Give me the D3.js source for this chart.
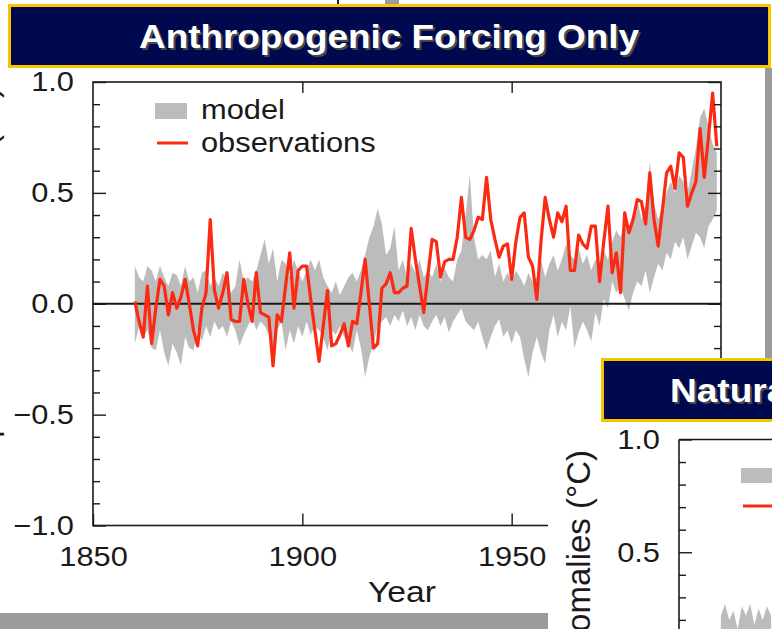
<!DOCTYPE html>
<html>
<head>
<meta charset="utf-8">
<script src="https://cdn.jsdelivr.net/npm/d3@7"></script>
<style>
  body { margin: 0; background: #fff; }
  svg { display: block; }
  text { font-family: "Liberation Sans", Arial, Helvetica, sans-serif; }
</style>
</head>
<body>
<svg id="chart" width="772" height="629"></svg>
<script>
// Global mean surface temperature anomalies (°C), annual, 1860-1999
const years = d3.range(1860, 2000);

const observations = [
  0.01, -0.08, -0.15, 0.08, -0.18, -0.02, 0.11, 0.08, -0.05, 0.05,
  -0.02, 0.03, 0.11, 0.00, -0.12, -0.19, -0.02, 0.05, 0.38, 0.06,
  -0.02, 0.05, 0.14, -0.07, -0.08, -0.08, 0.11, 0.00, -0.08, 0.14,
  -0.04, -0.05, -0.06, -0.28, -0.05, -0.08, 0.08, 0.23, -0.02, 0.15,
  0.17, 0.17, 0.02, -0.12, -0.26, -0.10, 0.06, -0.19, -0.18, -0.14,
  -0.09, -0.19, -0.08, -0.09, 0.05, 0.20, 0.00, -0.20, -0.18, 0.07,
  0.09, 0.14, 0.05, 0.05, 0.07, 0.08, 0.34, 0.20, 0.08, -0.04,
  0.13, 0.29, 0.28, 0.12, 0.19, 0.20, 0.20, 0.30, 0.48, 0.30,
  0.29, 0.33, 0.39, 0.38, 0.57, 0.38, 0.29, 0.21, 0.26, 0.27,
  0.11, 0.28, 0.39, 0.41, 0.21, 0.17, 0.02, 0.28, 0.48, 0.38,
  0.30, 0.41, 0.37, 0.44, 0.15, 0.15, 0.31, 0.27, 0.25, 0.35,
  0.35, 0.10, 0.28, 0.44, 0.14, 0.23, 0.05, 0.41, 0.32, 0.38,
  0.47, 0.46, 0.36, 0.59, 0.38, 0.26, 0.42, 0.59, 0.62, 0.52,
  0.68, 0.66, 0.44, 0.50, 0.55, 0.79, 0.57, 0.75, 0.95, 0.71
];

// Envelope of the anthropogenic-forcing model ensemble
const modelUpper = [
  0.17, 0.12, 0.10, 0.17, 0.15, 0.10, 0.17, 0.12, 0.08, 0.14,
  0.13, 0.08, 0.17, 0.10, 0.12, 0.05, 0.14, 0.15, 0.08, 0.12,
  0.08, 0.14, 0.10, 0.05, 0.08, 0.20, 0.10, 0.12, 0.10, 0.15,
  0.22, 0.29, 0.18, 0.25, 0.10, 0.20, 0.18, 0.12, 0.20, 0.15,
  0.10, 0.15, 0.20, 0.15, 0.20, 0.12, 0.08, 0.05, 0.10, 0.04,
  0.08, 0.12, 0.14, 0.10, 0.15, 0.22, 0.30, 0.35, 0.43, 0.36,
  0.22, 0.25, 0.35, 0.15, 0.20, 0.12, 0.18, 0.14, 0.20, 0.12,
  0.15, 0.12, 0.18, 0.10, 0.16, 0.12, 0.10, 0.20, 0.24, 0.40,
  0.58, 0.30, 0.20, 0.22, 0.20, 0.24, 0.12, 0.18, 0.10, 0.14,
  0.10, 0.15, 0.12, 0.08, 0.14, 0.10, 0.12, 0.20, 0.12, 0.18,
  0.22, 0.15, 0.20, 0.27, 0.22, 0.20, 0.25, 0.18, 0.22, 0.15,
  0.20, 0.18, 0.24, 0.20, 0.28, 0.33, 0.30, 0.38, 0.32, 0.40,
  0.47, 0.38, 0.45, 0.64, 0.45, 0.38, 0.45, 0.50, 0.55, 0.50,
  0.58, 0.55, 0.50, 0.60, 0.70, 0.84, 0.88, 0.80, 0.72, 0.68
];

const modelLower = [
  -0.18, -0.10, -0.15, -0.12, -0.20, -0.21, -0.12, -0.22, -0.28, -0.18,
  -0.22, -0.28, -0.15, -0.20, -0.21, -0.12, -0.17, -0.10, -0.15, -0.08,
  -0.12, -0.10, -0.15, -0.08, -0.12, -0.19, -0.14, -0.10, -0.06, -0.12,
  -0.08, -0.10, -0.14, -0.20, -0.12, -0.08, -0.21, -0.12, -0.18, -0.10,
  -0.15, -0.08, -0.14, -0.10, -0.12, -0.15, -0.21, -0.12, -0.14, -0.10,
  -0.15, -0.18, -0.22, -0.12, -0.20, -0.33, -0.24, -0.18, -0.10, -0.08,
  -0.06, -0.10, -0.05, -0.08, -0.03, -0.10, -0.06, -0.12, -0.05, -0.10,
  -0.12, -0.08, -0.05, -0.10, -0.06, -0.13, -0.08, -0.05, -0.02, -0.08,
  -0.10, -0.12, -0.08, -0.15, -0.21, -0.15, -0.10, -0.07, -0.15, -0.12,
  -0.18, -0.12, -0.15, -0.25, -0.33, -0.22, -0.15, -0.22, -0.27, -0.12,
  -0.05, -0.15, -0.08, -0.12, -0.01, -0.20, -0.13, -0.08, -0.12, -0.17,
  -0.04, -0.10, 0.02, -0.02, 0.10, 0.05, 0.08, 0.02, -0.03, 0.05,
  0.10, 0.08, 0.15, 0.05, 0.12, 0.18, 0.15, 0.23, 0.20, 0.28,
  0.25, 0.30, 0.20, 0.26, 0.32, 0.30, 0.25, 0.35, 0.38, 0.42
];

// Natural-forcing ensemble envelope, first years of the record
const naturalYears = d3.range(1860, 1873);
const naturalUpper = [0.22, 0.27, 0.20, 0.24, 0.16, 0.26, 0.22, 0.27, 0.18, 0.25, 0.20, 0.26, 0.22];
const naturalLower = [-0.20, -0.15, -0.22, -0.18, -0.25, -0.16, -0.20, -0.14, -0.24, -0.18, -0.22, -0.15, -0.20];

const yTickValues = d3.range(-10, 11).map(i => i / 10);
const xTickValues = [1850, 1900, 1950, 2000];
const titleMain = "Anthropogenic Forcing Only";
const titleSecond = "Natural Forcing Only";
const yTitle = "Temperature anomalies (\u00B0C)";
const xTitle = "Year";
const legendLabels = ["model", "observations"];

const svg = d3.select("#chart");
const fmt = d3.format(".1f");
const isMajor = v => Math.abs(v * 2 - Math.round(v * 2)) < 1e-6;
const SX = 1.1; // horizontal glyph stretch of the slide artwork
const ink = "#1a1a1a";
const bandFill = "#bcbcbc";
const obsColor = "#fb2a12";

svg.append("rect").attr("width", 772).attr("height", 629).attr("fill", "#fff");

// ---------- Panel 1 ----------
const x = d3.scaleLinear().domain([1850, 2000]).range([93, 721]);
const y = d3.scaleLinear().domain([-1, 1]).range([525.5, 82]);
const p1 = svg.append("g");

const band = d3.area()
  .x((d, i) => x(years[i]))
  .y0((d, i) => y(modelLower[i]))
  .y1((d, i) => y(modelUpper[i]));
p1.append("path").datum(modelUpper).attr("d", band).attr("fill", bandFill);

p1.append("line")
  .attr("x1", x(1850)).attr("x2", x(2000))
  .attr("y1", y(0)).attr("y2", y(0))
  .attr("stroke", ink).attr("stroke-width", 2);

const obsLine = d3.line().x((d, i) => x(years[i])).y(d => y(d));
p1.append("path").datum(observations).attr("d", obsLine)
  .attr("fill", "none").attr("stroke", obsColor)
  .attr("stroke-width", 3.2).attr("stroke-linejoin", "round");

// frame
p1.append("rect")
  .attr("x", x(1850)).attr("y", y(1))
  .attr("width", x(2000) - x(1850)).attr("height", y(-1) - y(1))
  .attr("fill", "none").attr("stroke", ink).attr("stroke-width", 1.6);

// left axis
const gL = p1.append("g").attr("transform", `translate(${x(1850)},0)`)
  .call(d3.axisLeft(y).tickValues(yTickValues).tickSize(-7).tickPadding(19 / SX)
    .tickFormat(v => isMajor(v) ? fmt(v) : ""));
gL.select(".domain").remove();
gL.selectAll(".tick line").attr("x2", d => isMajor(d) ? 13 : 7)
  .attr("stroke", ink).attr("stroke-width", 1.4);
gL.selectAll(".tick text").attr("font-size", 28).attr("fill", ink)
  .attr("font-family", "Liberation Sans, Arial, sans-serif")
  .attr("transform", `scale(${SX},1)`);

// right axis
const gR = p1.append("g").attr("transform", `translate(${x(2000)},0)`)
  .call(d3.axisRight(y).tickValues(yTickValues).tickSize(-7).tickFormat(""));
gR.select(".domain").remove();
gR.selectAll(".tick line").attr("x2", d => isMajor(d) ? -13 : -7)
  .attr("stroke", ink).attr("stroke-width", 1.4);

// bottom axis
const gB = p1.append("g").attr("transform", `translate(0,${y(-1)})`)
  .call(d3.axisBottom(x).tickValues(xTickValues).tickSize(-12).tickPadding(21)
    .tickFormat(d3.format("d")));
gB.select(".domain").remove();
gB.selectAll(".tick line").attr("stroke", ink).attr("stroke-width", 1.4);
gB.selectAll(".tick text").attr("font-size", 28).attr("fill", ink)
  .attr("font-family", "Liberation Sans, Arial, sans-serif")
  .attr("transform", `scale(${SX},1)`);

// top axis
const gT = p1.append("g").attr("transform", `translate(0,${y(1)})`)
  .call(d3.axisTop(x).tickValues([1900, 1950]).tickSize(-11).tickFormat(""));
gT.select(".domain").remove();
gT.selectAll(".tick line").attr("stroke", ink).attr("stroke-width", 1.4);

p1.append("text")
  .attr("transform", `translate(402,602) scale(1.16,1)`)
  .attr("text-anchor", "middle").attr("font-size", 29).attr("fill", ink)
  .text(xTitle);

// y-axis title, mostly beyond the left edge of the slide
p1.append("text")
  .attr("transform", "translate(-3,87) rotate(-90)")
  .attr("text-anchor", "end").attr("font-size", 33).attr("fill", ink)
  .text(yTitle);

// legend
p1.append("rect").attr("x", 155).attr("y", 103).attr("width", 32).attr("height", 16)
  .attr("fill", bandFill);
p1.append("line").attr("x1", 157).attr("x2", 188).attr("y1", 143).attr("y2", 143)
  .attr("stroke", obsColor).attr("stroke-width", 3);
legendLabels.forEach((t, i) => {
  p1.append("text")
    .attr("transform", `translate(201,${119 + i * 33}) scale(${SX},1)`)
    .attr("font-size", 28).attr("fill", ink).text(t);
});

// ---------- slide furniture ----------
svg.append("rect").attr("x", 0).attr("y", 613).attr("width", 548).attr("height", 16).attr("fill", "#9b9b9b");
svg.append("rect").attr("x", 765).attr("y", 68).attr("width", 7).attr("height", 292).attr("fill", "#9b9b9b");
svg.append("rect").attr("x", 385).attr("y", 0).attr("width", 14).attr("height", 10).attr("fill", "#9b9b9b");
svg.append("path").attr("d", "M331,6 L338,6 L338,0").attr("fill", "none").attr("stroke", "#222").attr("stroke-width", 2);

function banner(g, bx, by, bw, bh, label, tx, anchor, len) {
  g.append("rect").attr("x", bx).attr("y", by).attr("width", bw).attr("height", bh)
    .attr("fill", "#00094e").attr("stroke", "#f6c500").attr("stroke-width", 3);
  [["#4a4a4a", 2], ["#fff", 0]].forEach(([c, o]) => {
    const t = g.append("text")
      .attr("x", tx + o).attr("y", by + bh / 2 + 12 + o)
      .attr("text-anchor", anchor).attr("font-size", 34).attr("font-weight", "bold")
      .attr("fill", c).text(label);
    if (len) t.attr("textLength", len).attr("lengthAdjust", "spacingAndGlyphs");
  });
}
banner(svg, 9.5, 5.5, 760, 61, titleMain, 389, "middle", 500);

// ---------- Panel 2 (partly shown) ----------
const p2 = svg.append("g");
p2.append("rect").attr("x", 548).attr("y", 368).attr("width", 224).attr("height", 261).attr("fill", "#fff");
const x2 = d3.scaleLinear().domain([1850, 2000]).range([679, 679 + 628]);
const y2 = d3.scaleLinear().domain([-1, 1]).range([439.5 + 451, 439.5]);

p2.append("path").datum(naturalUpper)
  .attr("d", d3.area().x((d, i) => x2(naturalYears[i]))
    .y0((d, i) => y2(naturalLower[i])).y1(d => y2(d)))
  .attr("fill", bandFill);

p2.append("line").attr("x1", x2(1850)).attr("x2", 772).attr("y1", y2(1)).attr("y2", y2(1))
  .attr("stroke", ink).attr("stroke-width", 1.6);
p2.append("line").attr("x1", x2(1850)).attr("x2", x2(1850)).attr("y1", y2(1)).attr("y2", 629)
  .attr("stroke", ink).attr("stroke-width", 1.6);
const gL2 = p2.append("g").attr("transform", `translate(${x2(1850)},0)`)
  .call(d3.axisLeft(y2).tickValues(yTickValues).tickSize(-7).tickPadding(19 / SX)
    .tickFormat(v => isMajor(v) ? fmt(v) : ""));
gL2.select(".domain").remove();
gL2.selectAll(".tick line").attr("x2", d => isMajor(d) ? 13 : 7)
  .attr("stroke", ink).attr("stroke-width", 1.4);
gL2.selectAll(".tick text").attr("font-size", 28).attr("fill", ink)
  .attr("font-family", "Liberation Sans, Arial, sans-serif")
  .attr("transform", `scale(${SX},1)`);

p2.append("rect").attr("x", 741).attr("y", 468).attr("width", 32).attr("height", 15).attr("fill", bandFill);
p2.append("line").attr("x1", 743).attr("x2", 774).attr("y1", 506).attr("y2", 506)
  .attr("stroke", obsColor).attr("stroke-width", 3);
legendLabels.forEach((t, i) => {
  p2.append("text").attr("transform", `translate(787,${484 + i * 33}) scale(${SX},1)`)
    .attr("font-size", 28).attr("fill", ink).text(t);
});

p2.append("text")
  .attr("transform", "translate(590,450) rotate(-90)")
  .attr("text-anchor", "end").attr("font-size", 33).attr("fill", ink)
  .text(yTitle);

const b2 = svg.append("g");
b2.append("rect").attr("x", 602.5).attr("y", 359.5).attr("width", 260).attr("height", 61)
  .attr("fill", "#00094e").attr("stroke", "#f6c500").attr("stroke-width", 3);
[["#4a4a4a", 2], ["#fff", 0]].forEach(([c, o]) => {
  b2.append("text")
    .attr("transform", `translate(${670 + o},${402 + o}) scale(1.09,1)`)
    .attr("font-size", 34).attr("font-weight", "bold").attr("fill", c).text(titleSecond);
});
</script>
</body>
</html>
